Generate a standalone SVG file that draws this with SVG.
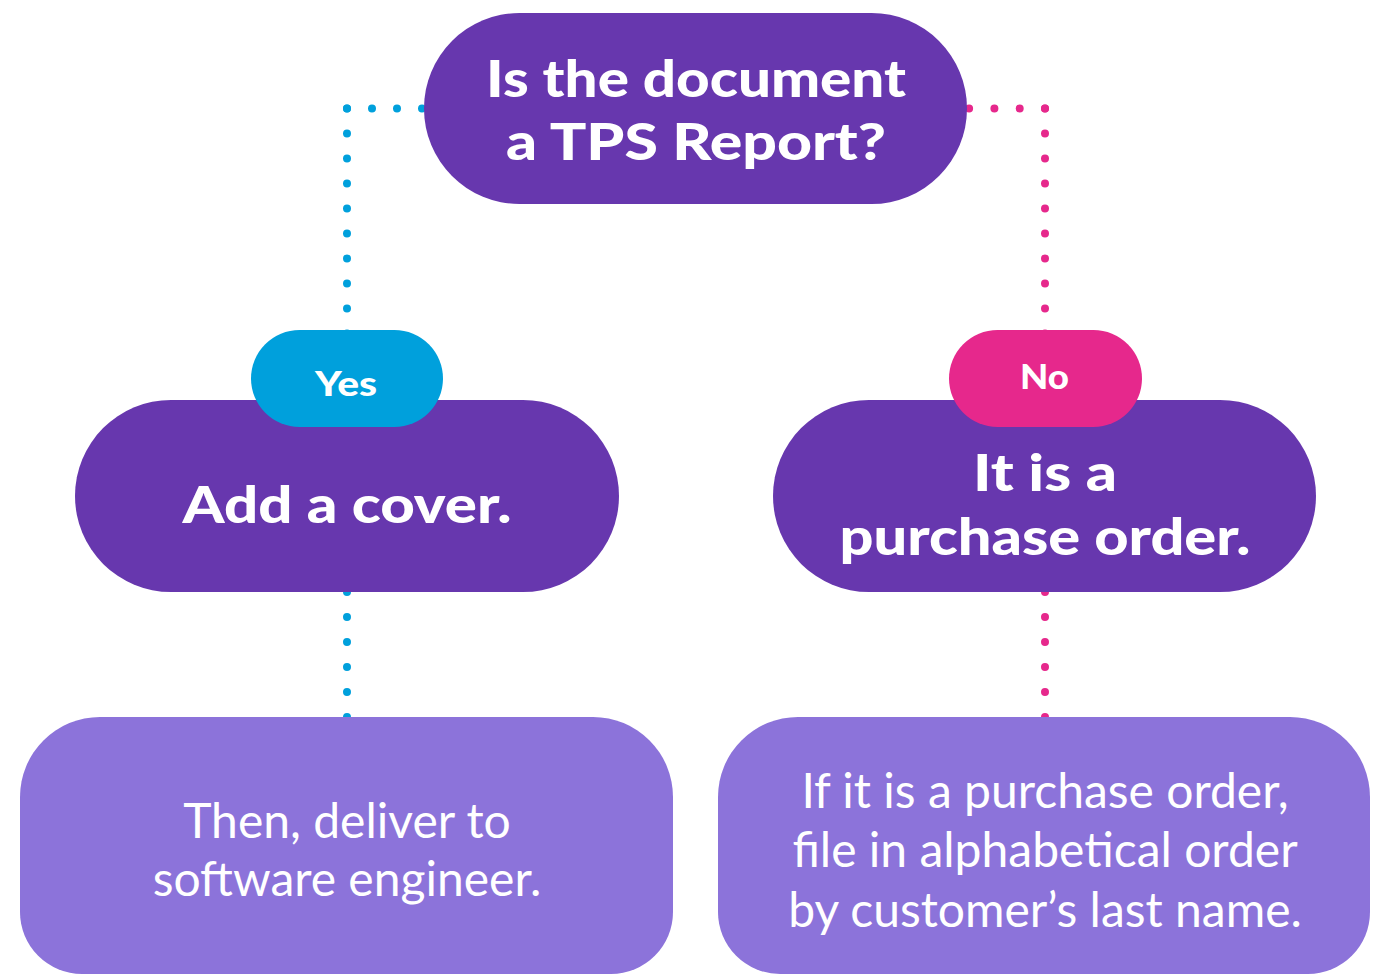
<svg xmlns="http://www.w3.org/2000/svg" width="1374" height="974" viewBox="0 0 1374 974">
<style>
.dark{fill:#6737AE}
.light{fill:#8C73DA}
.yes{fill:#00A0DC}
.no{fill:#E6288C}
.t{fill:#fff;text-anchor:middle;font-family:Lato,"Liberation Sans",sans-serif}
.big{font-size:52px;font-weight:900}
.pill{font-size:35px;font-weight:900}
.body{font-size:48px;font-weight:400}
.dotb{stroke:#00A0DC;stroke-width:8;stroke-linecap:round;stroke-dasharray:0 25;fill:none}
.dotp{stroke:#E6288C;stroke-width:8;stroke-linecap:round;stroke-dasharray:0 25;fill:none}
</style>
<rect width="1374" height="974" fill="#fff"/>
<g id="connectors">
<line class="dotb" x1="347" y1="108.5" x2="423" y2="108.5"/>
<line class="dotb" x1="347" y1="108.5" x2="347" y2="340"/>
<line class="dotb" x1="347" y1="592" x2="347" y2="720"/>
<line class="dotp" x1="1045" y1="108.5" x2="969" y2="108.5" style="stroke-dasharray:0 25.3"/>
<line class="dotp" x1="1045" y1="108.5" x2="1045" y2="340"/>
<line class="dotp" x1="1045" y1="592" x2="1045" y2="720"/>
</g>
<g id="question">
<rect class="dark" x="424" y="13" width="543" height="191" rx="95.5"/>
<text class="t big" x="696" y="97" textLength="420" lengthAdjust="spacingAndGlyphs">Is the document</text>
<text class="t big" x="696" y="160" textLength="380" lengthAdjust="spacingAndGlyphs">a TPS Report?</text>
</g>
<g id="add-cover">
<rect class="dark" x="75" y="400" width="544" height="192" rx="96"/>
<text class="t big" x="347" y="523" textLength="329" lengthAdjust="spacingAndGlyphs">Add a cover.</text>
</g>
<g id="purchase-order">
<rect class="dark" x="773" y="400" width="543" height="192" rx="96"/>
<text class="t big" x="1045" y="491" textLength="144" lengthAdjust="spacingAndGlyphs">It is a</text>
<text class="t big" x="1045" y="555" textLength="411" lengthAdjust="spacingAndGlyphs">purchase order.</text>
</g>
<g id="yes-label">
<rect class="yes" x="251" y="330" width="192" height="97" rx="48.5"/>
<text class="t pill" x="346" y="396" textLength="62" lengthAdjust="spacingAndGlyphs">Yes</text>
</g>
<g id="no-label">
<rect class="no" x="949" y="330" width="193" height="97" rx="48.5"/>
<text class="t pill" x="1044.5" y="389" textLength="49" lengthAdjust="spacingAndGlyphs">No</text>
</g>
<g id="deliver">
<path class="light" d="M100,717 H593 A80,80 0 0 1 673,797 V912 A62,62 0 0 1 611,974 H82 A62,62 0 0 1 20,912 V797 A80,80 0 0 1 100,717 Z"/>
<text class="t body" x="347" y="838">Then, deliver to</text>
<text class="t body" x="347" y="896">software engineer.</text>
</g>
<g id="file">
<path class="light" d="M798,717 H1290 A80,80 0 0 1 1370,797 V912 A62,62 0 0 1 1308,974 H780 A62,62 0 0 1 718,912 V797 A80,80 0 0 1 798,717 Z"/>
<text class="t body" x="1045" y="808">If it is a purchase order,</text>
<text class="t body" x="1045" y="867">file in alphabetical order</text>
<text class="t body" x="1045" y="927">by customer’s last name.</text>
</g>
</svg>
